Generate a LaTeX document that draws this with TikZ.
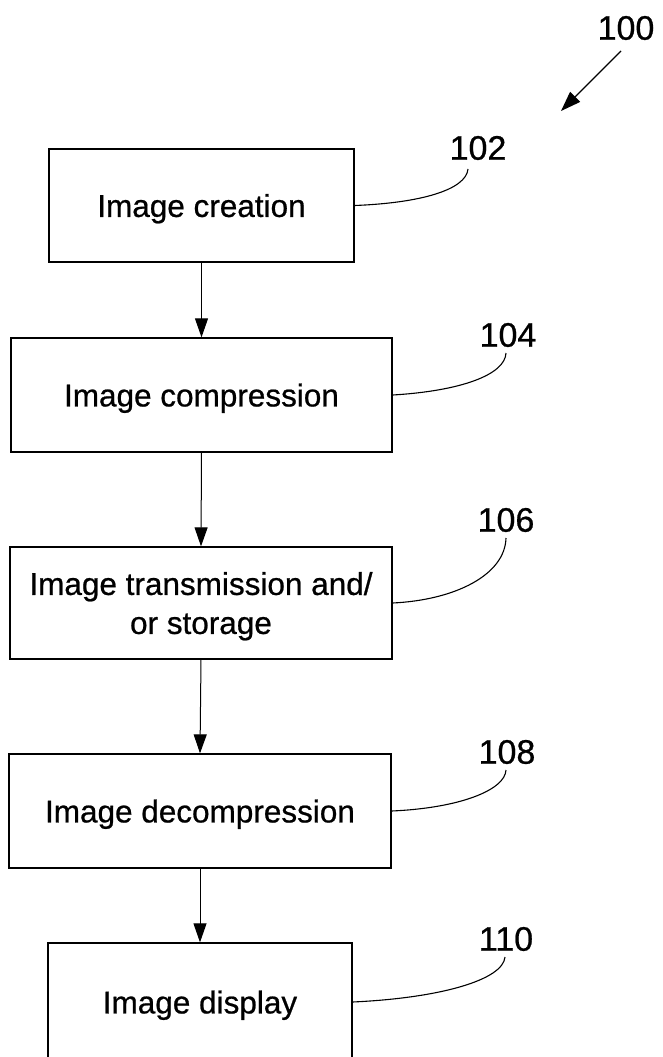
\documentclass[tikz,border=0pt]{standalone}
\usepackage{fontspec}
\setmainfont{Liberation Sans}[BoldFont=Liberation Sans,BoldFeatures={FakeBold=0.7}]
\usetikzlibrary{arrows.meta}
\begin{document}
\begin{tikzpicture}[x=1pt,y=-1pt,
  stepbox/.style={draw,line width=1.3pt,inner sep=0pt,align=center,text depth=0pt,
    font=\fontsize{31.5}{39}\selectfont\bfseries},
  reflabel/.style={inner sep=0pt,font=\fontsize{34}{40}\selectfont\bfseries},
  flow/.style={line width=1pt,-{Triangle[length=19pt,width=13pt]}},
  leader/.style={line width=1.1pt},
]
\useasboundingbox (0,0) rectangle (662,1057);
\clip (0,0) rectangle (662,1057);

\node[stepbox,minimum width=305,minimum height=113] (b1) at (201.5,205.5) {Image creation};
\node[stepbox,minimum width=381,minimum height=114] (b2) at (201.5,395) {Image compression};
\node[stepbox,minimum width=382,minimum height=112] (b3) at (201,603) {Image transmission and/\\or storage};
\node[stepbox,minimum width=382,minimum height=114] (b4) at (200,811) {Image decompression};
\node[stepbox,minimum width=304,minimum height=118] (b5) at (200,1002) {Image display};

\draw[flow] (b1.south) -- (b2.north);
\draw[flow] (b2.south) -- (b3.north);
\draw[flow] (b3.south) -- (b4.north);
\draw[flow] (b4.south) -- (b5.north);

\node[reflabel] (l100) at (626,28) {100};
\node[reflabel] (l102) at (478,148) {102};
\node[reflabel] (l104) at (508,335) {104};
\node[reflabel] (l106) at (506,520) {106};
\node[reflabel] (l108) at (507,752) {108};
\node[reflabel] (l110) at (506,939) {110};

\coordinate (a100s) at (621,51);
\coordinate (a100e) at (561,111);
\draw[line width=1.1pt,-{Triangle[length=20pt,width=14pt]}] (a100s) -- (a100e);

\coordinate (e102) at (468,169);
\coordinate (e104) at (506,353);
\coordinate (e106) at (506,538);
\coordinate (e108) at (506,770);
\coordinate (e110) at (505,957);

\draw[leader] (b1.east) .. controls (420,203) and (466,190) .. (e102);
\draw[leader] (b2.east) .. controls (460,391) and (505,375) .. (e104);
\draw[leader] (b3.east) .. controls (455,600) and (505,575) .. (e106);
\draw[leader] (b4.east) .. controls (460,808) and (505,790) .. (e108);
\draw[leader] (b5.east) .. controls (440,998) and (503,980) .. (e110);
\end{tikzpicture}
\end{document}
